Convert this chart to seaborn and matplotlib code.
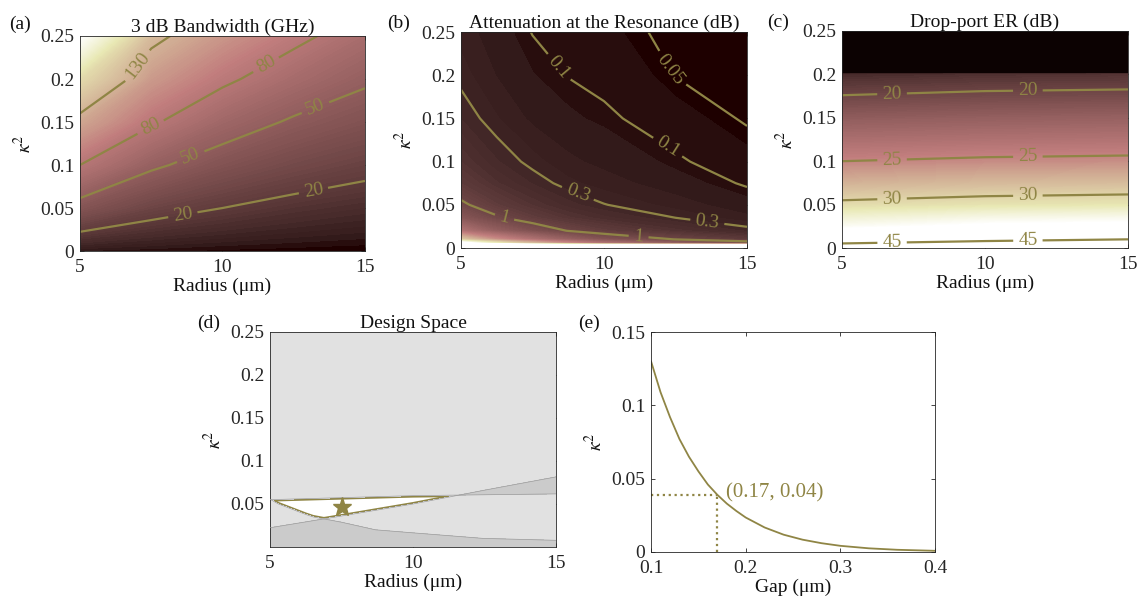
import numpy as np
import matplotlib
matplotlib.use("Agg")
import matplotlib.pyplot as plt
from matplotlib.ticker import FuncFormatter
import seaborn as sns

# ---- data ----
radius = [5, 7.5, 10, 12.5, 15]

# (a) 3 dB bandwidth (GHz), rows = kappa^2, cols = radius
k2_bw = [0, 0.05, 0.1, 0.15, 0.2, 0.25]
bandwidth = [
    [3, 2, 1, 0.5, 0],
    [41, 27, 20, 14.8, 11.5],
    [80, 53.5, 39.7, 31, 25],
    [120, 83, 61, 47.4, 39],
    [170, 110.5, 84.7, 66.4, 53],
    [250, 138, 108, 86, 68],
]
bw_levels = [20, 50, 80, 130]

# (b) attenuation at the resonance (dB)
radius_att = [5, 6.25, 7.5, 8.75, 10, 12.5, 15]
k2_att = [0, 0.005, 0.01, 0.02, 0.035, 0.05, 0.075, 0.1, 0.15, 0.2, 0.25]
attenuation = [
    [40, 40, 40, 40, 40, 40, 40],
    [10.8, 7.4, 5.34, 3.9, 2.9, 2.0, 1.38],
    [5.4, 3.7, 2.67, 1.95, 1.45, 0.99, 0.69],
    [2.7, 1.85, 1.335, 0.98, 0.75, 0.51, 0.345],
    [1.54, 1.06, 0.763, 0.56, 0.44, 0.30, 0.197],
    [1.08, 0.74, 0.534, 0.39, 0.305, 0.213, 0.138],
    [0.72, 0.493, 0.356, 0.26, 0.21, 0.143, 0.092],
    [0.54, 0.37, 0.267, 0.195, 0.162, 0.108, 0.069],
    [0.36, 0.247, 0.165, 0.13, 0.11, 0.072, 0.046],
    [0.27, 0.178, 0.123, 0.098, 0.085, 0.049, 0.0345],
    [0.216, 0.140, 0.098, 0.079, 0.068, 0.039, 0.0276],
]
att_levels = [0.05, 0.1, 0.3, 1]

# (c) drop-port extinction ratio (dB)
radius_er = [5, 10, 15]
k2_er = [0, 0.01, 0.025, 0.05, 0.075, 0.1, 0.125, 0.15, 0.175, 0.2, 0.21, 0.25]
extinction = [
    [50, 51, 52],
    [40.5, 43.5, 45],
    [35.5, 37, 37.5],
    [30.6, 31.2, 31.5],
    [27.6, 28.1, 28.3],
    [25.0, 25.35, 25.5],
    [23.2, 23.45, 23.6],
    [21.6, 21.85, 22.0],
    [20.05, 20.3, 20.4],
    [18.8, 19.0, 19.1],
    [12, 12, 12],
    [12, 12, 12],
]
er_levels = [20, 25, 30, 45]

# (d) design constraints and chosen point
bw_min, att_max, er_min = 20, 1, 30
design_radius, design_k2 = 7.5, 0.046

# (e) kappa^2 versus gap
gap = [0.10, 0.11, 0.12, 0.13, 0.14, 0.15, 0.16, 0.17, 0.18, 0.19, 0.20,
       0.22, 0.24, 0.26, 0.28, 0.30, 0.33, 0.36, 0.40]
k2_gap = [0.130, 0.109, 0.092, 0.077, 0.065, 0.055, 0.046, 0.039, 0.033, 0.028,
          0.0235, 0.0167, 0.0118, 0.0084, 0.0060, 0.0042, 0.0025, 0.0015, 0.0008]
design_gap, design_k2_gap = 0.17, 0.039

# ---- style ----
sns.set_theme(style="ticks")
plt.rcParams["font.family"] = "serif"
plt.rcParams["font.serif"] = ["Liberation Serif", "DejaVu Serif"]
plt.rcParams["mathtext.fontset"] = "stix"
fs = 14
plt.rcParams.update({
    "font.size": fs,
    "axes.labelsize": fs,
    "axes.titlesize": fs,
    "xtick.labelsize": fs,
    "ytick.labelsize": fs,
    "axes.linewidth": 0.6,
    "axes.edgecolor": "#262626",
    "xtick.color": "#262626",
    "ytick.color": "#262626",
    "text.color": "#111111",
    "axes.labelcolor": "#111111",
})
olive = "#8f8545"
fmt = FuncFormatter(lambda v, _: f"{v:g}")
cmap = plt.get_cmap("pink").copy()
cmap.set_under("#0c0202")

fig = plt.figure(figsize=(11.38, 6.03), dpi=100)


def style_axes(ax, xlabel, title, xlim, ylim, xticks, yticks):
    ax.set_xlim(*xlim)
    ax.set_ylim(*ylim)
    ax.set_xticks(xticks)
    ax.set_yticks(yticks)
    ax.xaxis.set_major_formatter(fmt)
    ax.yaxis.set_major_formatter(fmt)
    ax.tick_params(direction="in", top=True, right=True, length=3, width=0.6)
    ax.tick_params(axis="x", pad=6)
    ax.tick_params(axis="y", pad=4)
    ax.set_xlabel(xlabel, labelpad=1)
    ax.set_ylabel(r"$\kappa^2$", labelpad=4)
    if title:
        ax.set_title(title, pad=3)
    for s in ax.spines.values():
        s.set_visible(True)


def heat_panel(rect, x, y, z, vmin, vmax, levels, label_pos, title):
    ax = fig.add_axes(rect)
    z = np.array(z, dtype=float)
    ax.contourf(x, y, z, levels=np.linspace(vmin, vmax, 150), cmap=cmap, extend="both")
    cs = ax.contour(x, y, z, levels=levels, colors=olive, linewidths=1.6)
    ax.clabel(cs, manual=label_pos, inline=True, fontsize=fs, fmt="%g", colors=olive)
    style_axes(ax, "Radius (μm)", title, (5, 15), (0, 0.25), [5, 10, 15],
               [0, 0.05, 0.1, 0.15, 0.2, 0.25])
    return ax


heat_panel([0.0703, 0.5837, 0.2504, 0.3566], radius, k2_bw, bandwidth, 0, 250, bw_levels,
           [(6.76, 0.222), (11.3, 0.23), (7.3, 0.155), (8.8, 0.117), (13.2, 0.172),
            (8.6, 0.044), (13.2, 0.069)],
           "3 dB Bandwidth (GHz)")
heat_panel([0.4051, 0.5887, 0.2513, 0.3582], radius_att, k2_att, attenuation, 0, 9, att_levels,
           [(8.3, 0.206), (12.0, 0.2), (12.0, 0.105), (9.06, 0.061), (13.6, 0.027),
            (6.5, 0.032), (11.2, 0.009)],
           "Attenuation at the Resonance (dB)")
heat_panel([0.7399, 0.5887, 0.2513, 0.3599], radius_er, k2_er, extinction, 18, 36.5, er_levels,
           [(6.75, 0.177), (11.5, 0.178), (6.75, 0.102), (11.5, 0.104),
            (6.75, 0.057), (11.5, 0.059), (6.75, 0.008), (11.5, 0.009)],
           "Drop-port ER (dB)")

# (d) design space: shade each excluded region, overlaps get darker
ax = fig.add_axes([0.2373, 0.0929, 0.2513, 0.3566])
bw = np.array(bandwidth, dtype=float)
att = np.array(attenuation, dtype=float)
er = np.array(extinction, dtype=float)
limits = [
    (radius, k2_bw, bw, bw_min, [bw.min() - 1, bw_min]),
    (radius_att, k2_att, att, att_max, [att_max, att.max() + 1]),
    (radius_er, k2_er, er, er_min, [er.min() - 1, er_min]),
]
for x, y, z, b, lv in limits:
    ax.contour(x, y, z, levels=[b], colors=olive, linewidths=2.8, zorder=1)
for x, y, z, b, lv in limits:
    ax.contourf(x, y, z, levels=lv, colors=["#f9f9f9"], zorder=2)
for x, y, z, b, lv in limits:
    ax.contourf(x, y, z, levels=lv, colors=["k"], alpha=0.105, zorder=3)
for x, y, z, b, lv in limits:
    ax.contour(x, y, z, levels=[b], colors="#9c9c9c", linewidths=0.5, zorder=4)
ax.plot(design_radius, design_k2, marker="*", ms=14, color=olive, zorder=5)
style_axes(ax, "Radius (μm)", "Design Space", (5, 15), (0, 0.25), [5, 10, 15],
           [0.05, 0.1, 0.15, 0.2, 0.25])

# (e) kappa^2 vs gap
ax = fig.add_axes([0.5721, 0.0846, 0.2496, 0.3648])
sns.lineplot(x=gap, y=k2_gap, ax=ax, color=olive, linewidth=1.3)
ax.plot([gap[0], design_gap], [design_k2_gap, design_k2_gap], ls=":", color=olive, lw=1.6)
ax.plot([design_gap, design_gap], [0, design_k2_gap], ls=":", color=olive, lw=1.6)
ax.text(design_gap + 0.009, design_k2_gap + 0.001,
        f"({design_gap:.2f}, {design_k2_gap:.2f})", color=olive, va="center", fontsize=15)
style_axes(ax, "Gap (μm)", None, (0.1, 0.4), (0, 0.15), [0.1, 0.2, 0.3, 0.4],
           [0, 0.05, 0.1, 0.15])

for lab, x, y in [("(a)", 0.0176, 0.960), ("(b)", 0.3506, 0.9619), ("(c)", 0.6837, 0.9635),
                  ("(d)", 0.1837, 0.4643), ("(e)", 0.5176, 0.4643)]:
    fig.text(x, y, lab, ha="center", va="center", fontsize=fs)

fig.savefig("out.png", dpi=100)
